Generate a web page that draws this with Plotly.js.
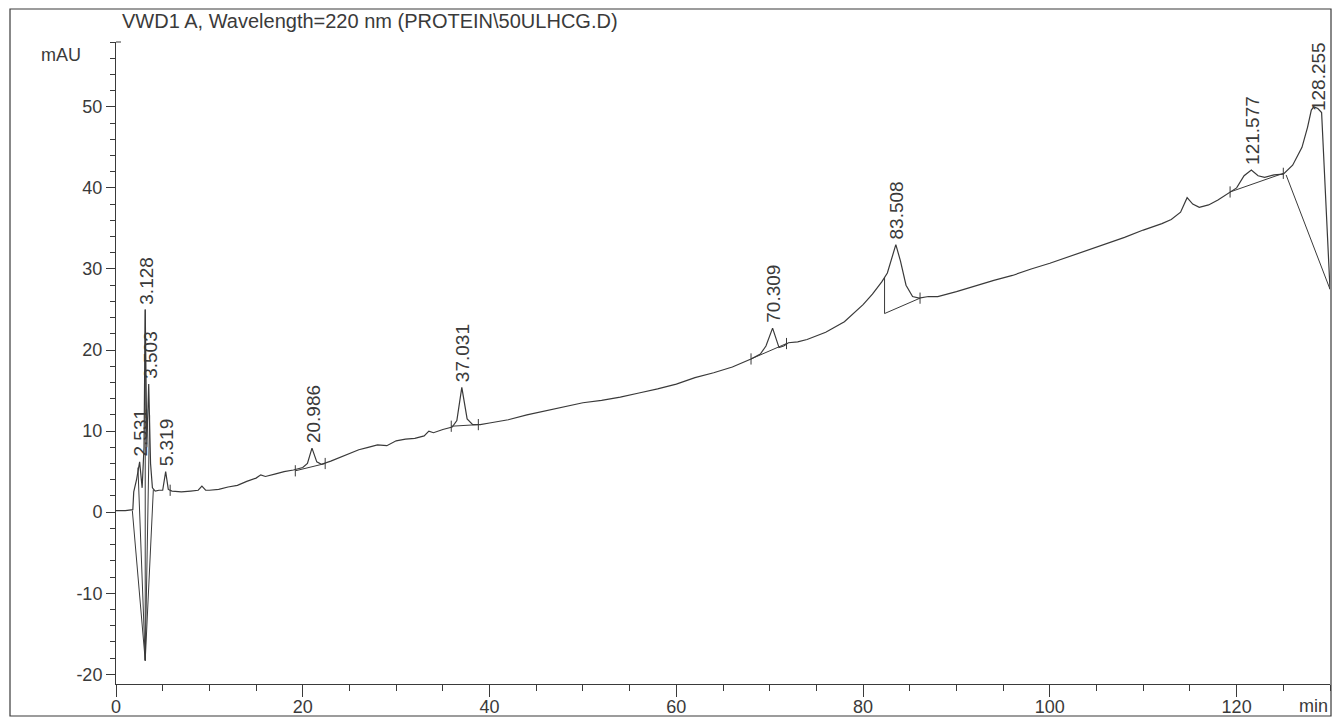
<!DOCTYPE html>
<html>
<head>
<meta charset="utf-8">
<script src="https://cdn.plot.ly/plotly-3.0.1.min.js"></script>
<style>html,body{margin:0;padding:0;background:#fff;}#chart{width:1340px;height:719px;}</style>
</head>
<body>
<div id="chart"></div>
<script>
// Retention time (min) and detector signal (mAU)
const timeMin = [0, 1, 1.8, 1.9, 2.2, 2.531, 2.8, 3.0, 3.128, 3.3, 3.503, 3.7, 3.9, 4.2, 4.6, 5.0, 5.319, 5.6, 6, 7, 8, 8.8, 9.2, 9.6, 10, 11, 12, 13, 14, 15, 15.5, 16, 17, 18, 19, 20, 20.5, 20.986, 21.5, 22, 23, 24, 25, 26, 27, 28, 29, 30, 31, 32, 33, 33.5, 34, 35, 36, 36.5, 37.031, 37.6, 38.2, 39, 40, 42, 44, 46, 48, 50, 52, 54, 56, 58, 60, 62, 64, 66, 68, 69, 69.6, 70.309, 71, 71.5, 72, 73, 74, 76, 78, 79, 80, 81, 82, 82.6, 83, 83.508, 84, 84.6, 85.3, 86, 87, 88, 90, 92, 94, 96, 98, 100, 102, 104, 106, 108, 110, 112, 113, 114, 114.7, 115.3, 116, 117, 118, 119, 120, 120.8, 121.577, 122.3, 123, 124, 125, 126, 127, 127.6, 128.0, 128.255, 128.7, 129.1, 130];
const signalMAU = [0.2, 0.2, 0.3, 2.5, 4.0, 6.2, 3.0, 8.0, 25.0, 8.0, 15.8, 6.0, 3.0, 2.6, 2.7, 2.7, 5.0, 2.8, 2.6, 2.5, 2.6, 2.7, 3.2, 2.7, 2.7, 2.8, 3.1, 3.3, 3.8, 4.2, 4.6, 4.4, 4.7, 5.0, 5.2, 5.5, 6.0, 7.9, 6.2, 5.9, 6.3, 6.8, 7.2, 7.7, 8.0, 8.3, 8.2, 8.8, 9.0, 9.1, 9.4, 10.0, 9.8, 10.2, 10.5, 11.3, 15.4, 11.5, 10.8, 10.8, 11.0, 11.4, 12.0, 12.5, 13.0, 13.5, 13.8, 14.2, 14.7, 15.2, 15.8, 16.6, 17.2, 17.9, 18.9, 19.5, 20.5, 22.7, 20.3, 20.5, 20.9, 21.0, 21.3, 22.2, 23.5, 24.5, 25.6, 26.9, 28.4, 29.5, 31.0, 33.0, 31.0, 28.0, 26.6, 26.4, 26.6, 26.6, 27.2, 27.9, 28.6, 29.2, 30.0, 30.7, 31.5, 32.3, 33.1, 33.9, 34.8, 35.6, 36.1, 37.0, 38.8, 38.0, 37.6, 37.9, 38.5, 39.3, 40.0, 41.5, 42.2, 41.5, 41.3, 41.6, 41.7, 42.8, 45.0, 47.5, 49.6, 50.0, 49.8, 49.3, 27.5];

// Integration baselines drawn by the data system (null = break)
const baseT = [1.75, 3.13, 4.0, null, 2.35, 3.13, 3.6, null, 3.13, 3.13, null, 19.2, 22.4, null, 35.9, 38.8, null, 68.0, 71.8, null, 82.3, 82.3, 86.1, null, 119.3, 125.0, null, 125.3, 130];
const baseV = [0.2, -18.3, 2.8, null, 5.5, -18.3, 12.0, null, -18.3, 25.0, null, 5.1, 6.0, null, 10.6, 10.8, null, 18.9, 20.8, null, 29.0, 24.5, 26.4, null, 39.5, 41.8, null, 41.6, 27.5];

// Peak start/end tick marks
const markT = [5.8, 19.2, 22.4, 35.9, 38.8, 68.0, 71.8, 86.1, 119.3, 125.0];
const markV = [2.7, 5.1, 6.0, 10.6, 10.8, 18.9, 20.8, 26.4, 39.5, 41.8];

// Peak labels (retention times) and apex heights
const peakLabels = ["2.531", "3.128", "3.503", "5.319", "20.986", "37.031", "70.309", "83.508", "121.577", "128.255"];
const peakT = [2.531, 3.128, 3.503, 5.319, 20.986, 37.031, 70.309, 83.508, 121.577, 128.255];
const peakV = [6.2, 25.0, 15.8, 5.0, 7.9, 15.4, 22.7, 33.0, 42.2, 50.0];

// Axis tick labels
const yTickVals = [-20, -10, 0, 10, 20, 30, 40, 50];
const yTickText = ['-20', '-10', '0', '10', '20', '30', '40', '50'];
const xTickVals = [0, 20, 40, 60, 80, 100, 120];

const ink = '#3a3a3a';
const fontFam = 'Liberation Sans, Arial, sans-serif';

const traces = [
  {x: timeMin, y: signalMAU, mode: 'lines', line: {color: ink, width: 1.2}, hoverinfo: 'skip'},
  {x: baseT, y: baseV, mode: 'lines', line: {color: ink, width: 1}, connectgaps: false, hoverinfo: 'skip'},
  {x: markT, y: markV, mode: 'markers', marker: {symbol: 'line-ns-open', size: 8, color: ink, line: {color: ink, width: 1}}, hoverinfo: 'skip'}
];

const labelShift = [3, 3, 3, 3, 3, 3, 3, 3, 3, -6];
const annotations = peakLabels.map((s, i) => ({
  x: peakT[i], y: peakV[i], xref: 'x', yref: 'y', text: s, textangle: -90,
  showarrow: false, xanchor: 'center', yanchor: 'bottom', yshift: labelShift[i], xshift: i === 9 ? 5 : 1,
  font: {family: fontFam, size: 19, color: ink}
}));
annotations.push({xref: 'paper', yref: 'paper', x: 1, y: -0.034, xanchor: 'right', yanchor: 'middle',
  text: 'min', showarrow: false, font: {family: fontFam, size: 18, color: ink}});
annotations.push({xref: 'paper', yref: 'paper', x: -0.027, y: 0.979, xanchor: 'right', yanchor: 'middle',
  text: 'mAU', showarrow: false, font: {family: fontFam, size: 18, color: ink}});

const layout = {
  width: 1340, height: 719,
  margin: {l: 116, r: 10, t: 42, b: 35},
  paper_bgcolor: '#ffffff', plot_bgcolor: '#ffffff',
  showlegend: false,
  title: {text: 'VWD1 A, Wavelength=220 nm (PROTEIN\\50ULHCG.D)', xref: 'container', yref: 'container',
    x: 122 / 1340, xanchor: 'left', y: 1 - 21 / 719, yanchor: 'middle',
    font: {family: fontFam, size: 20, color: ink}},
  xaxis: {range: [0, 130], showgrid: false, zeroline: false, showline: true, linecolor: ink, linewidth: 1,
    ticks: 'outside', ticklen: 12, tickcolor: ink, tickmode: 'array', tickvals: xTickVals,
    ticklabelstandoff: -6,
    tickfont: {family: fontFam, size: 18, color: ink},
    minor: {dtick: 5, tick0: 0, ticks: 'outside', ticklen: 6, tickcolor: ink}},
  yaxis: {range: [-21.2, 58], showgrid: false, zeroline: false, showline: true, linecolor: ink, linewidth: 1,
    ticks: 'outside', ticklen: 9, tickcolor: ink, tickmode: 'array', tickvals: yTickVals, ticktext: yTickText,
    tickfont: {family: fontFam, size: 18, color: ink},
    minor: {dtick: 2, tick0: 0, ticks: 'outside', ticklen: 5, tickcolor: ink}},
  annotations: annotations,
  shapes: [
    {type: 'rect', xref: 'paper', yref: 'paper', x0: (10 - 116) / 1214, x1: (1331 - 116) / 1214,
      y0: -(716 - 684) / 642, y1: 1 + (42 - 9) / 642, line: {color: ink, width: 1.2}},
    {type: 'line', xref: 'paper', yref: 'paper', x0: 0, x1: 5 / 1214, y0: 1, y1: 1, line: {color: ink, width: 1}}
  ]
};

Plotly.newPlot('chart', traces, layout, {displayModeBar: false, staticPlot: true});
</script>
</body>
</html>
